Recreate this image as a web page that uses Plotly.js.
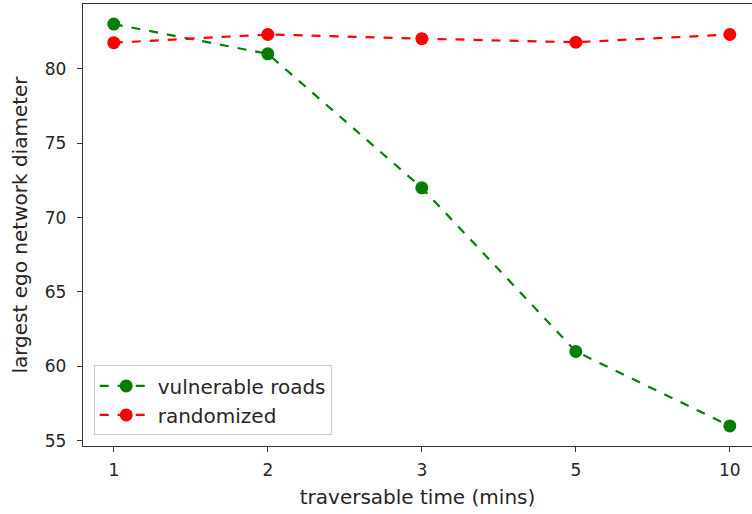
<!DOCTYPE html>
<html>
<head>
<meta charset="utf-8">
<script src="https://cdn.plot.ly/plotly-3.0.1.min.js"></script>
<style>html,body{margin:0;padding:0;background:#fff;}#chart{width:752px;height:514px;}</style>
</head>
<body>
<div id="chart"></div>
<script>
const categories = ['1', '2', '3', '5', '10'];
const vulnerable = [83, 81, 72, 61, 56];
const randomized = [81.75, 82.3, 82.02, 81.78, 82.3];
const seriesNames = ['vulnerable roads', 'randomized'];
const xTitle = 'traversable time (mins)';
const yTitle = 'largest ego network diameter';

const tickFont = {family: 'DejaVu Sans, sans-serif', size: 17, color: '#262626'};
const titleFont = {family: 'DejaVu Sans, sans-serif', size: 20, color: '#262626'};

const traces = [
  {x: categories, y: vulnerable, name: seriesNames[0], type: 'scatter', mode: 'lines+markers',
   line: {color: 'green', dash: 'dash', width: 2.2}, marker: {color: 'green', size: 13}},
  {x: categories, y: randomized, name: seriesNames[1], type: 'scatter', mode: 'lines+markers',
   line: {color: 'red', dash: 'dash', width: 2.2}, marker: {color: 'red', size: 13}}
];

const layout = {
  width: 752, height: 514,
  margin: {l: 83, r: 0, t: 4, b: 68},
  paper_bgcolor: '#fff', plot_bgcolor: '#fff',
  font: tickFont,
  showlegend: true,
  legend: {x: 0.016, y: 0.024, xanchor: 'left', yanchor: 'bottom',
    bgcolor: 'rgba(255,255,255,0.8)', bordercolor: '#cccccc', borderwidth: 1,
    font: titleFont, itemwidth: 53, tracegroupgap: 0},
  xaxis: {type: 'category', range: [-0.2, 4.144], showgrid: false, zeroline: false,
    showline: true, linecolor: '#333', linewidth: 1.2, mirror: true,
    ticks: 'outside', ticklen: 5, tickcolor: '#333', tickwidth: 1,
    ticklabelstandoff: 3, automargin: false,
    tickfont: tickFont,
    title: {text: xTitle, font: titleFont, standoff: 11}},
  yaxis: {range: [54.65, 84.35], showgrid: false, zeroline: false,
    showline: true, linecolor: '#333', linewidth: 1.2, mirror: false,
    ticks: 'outside', ticklen: 5, tickcolor: '#333', tickwidth: 1,
    ticklabelstandoff: 7, automargin: false,
    tickvals: [55, 60, 65, 70, 75, 80], tickfont: tickFont,
    title: {text: yTitle, font: titleFont, standoff: 11}}
};

Plotly.newPlot('chart', traces, layout, {displayModeBar: false, staticPlot: true});
</script>
</body>
</html>
